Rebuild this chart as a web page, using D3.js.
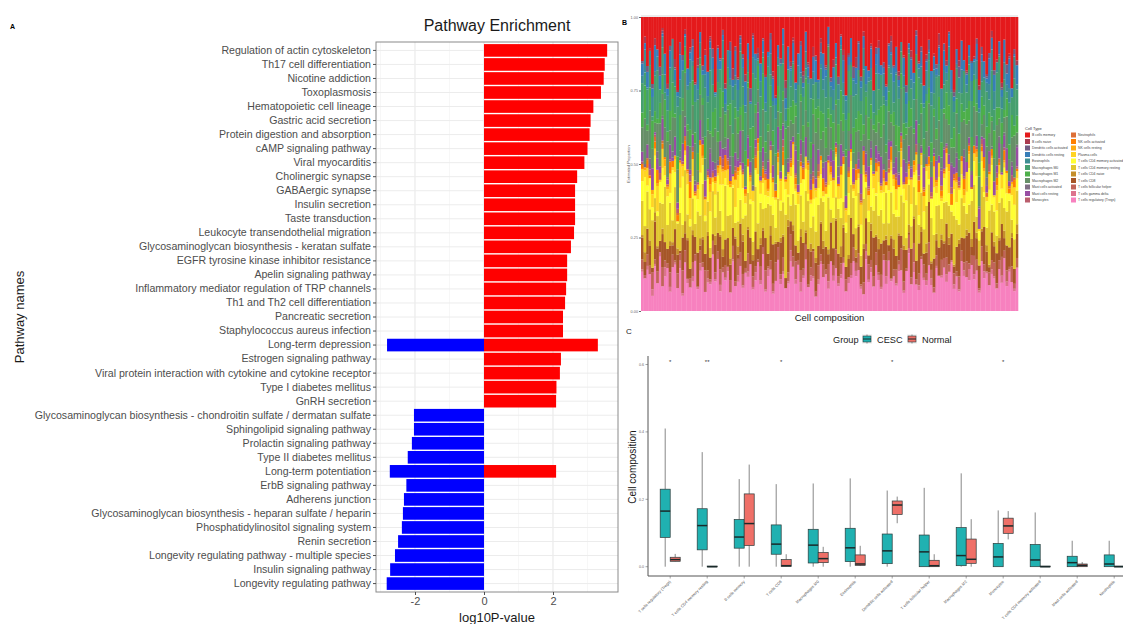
<!DOCTYPE html>
<html><head><meta charset="utf-8">
<script src="https://cdn.jsdelivr.net/npm/d3@7"></script>
<style>
body{margin:0;background:#fff}
svg{display:block}
text{font-family:"Liberation Sans",Arial,Helvetica,sans-serif}
</style>
</head><body>
<svg id="fig" width="1123" height="624"></svg>
<script>
// ---------- Panel A: pathway enrichment ----------
const pathways = [
  "Regulation of actin cytoskeleton","Th17 cell differentiation","Nicotine addiction","Toxoplasmosis",
  "Hematopoietic cell lineage","Gastric acid secretion","Protein digestion and absorption","cAMP signaling pathway",
  "Viral myocarditis","Cholinergic synapse","GABAergic synapse","Insulin secretion","Taste transduction",
  "Leukocyte transendothelial migration","Glycosaminoglycan biosynthesis - keratan sulfate",
  "EGFR tyrosine kinase inhibitor resistance","Apelin signaling pathway",
  "Inflammatory mediator regulation of TRP channels","Th1 and Th2 cell differentiation","Pancreatic secretion",
  "Staphylococcus aureus infection","Long-term depression","Estrogen signaling pathway",
  "Viral protein interaction with cytokine and cytokine receptor","Type I diabetes mellitus","GnRH secretion",
  "Glycosaminoglycan biosynthesis - chondroitin sulfate / dermatan sulfate","Sphingolipid signaling pathway",
  "Prolactin signaling pathway","Type II diabetes mellitus","Long-term potentiation","ErbB signaling pathway",
  "Adherens junction","Glycosaminoglycan biosynthesis - heparan sulfate / heparin",
  "Phosphatidylinositol signaling system","Renin secretion","Longevity regulating pathway - multiple species",
  "Insulin signaling pathway","Longevity regulating pathway"
];
const upLog10P = [3.57,3.50,3.47,3.39,3.17,3.09,3.06,3.00,2.91,2.70,2.64,2.64,2.64,2.61,2.52,2.41,2.41,2.38,2.35,2.29,2.29,
  3.30,2.23,2.20,2.10,2.09,null,null,null,null,2.09,null,null,null,null,null,null,null,null];
const downLog10P = [null,null,null,null,null,null,null,null,null,null,null,null,null,null,null,null,null,null,null,null,null,
  -2.81,null,null,null,null,-2.03,-2.03,-2.09,-2.21,-2.73,-2.25,-2.32,-2.35,-2.38,-2.49,-2.58,-2.72,-2.82];
const enrichTicks = [-2, 0, 2];

// ---------- Panel B: estimated cell proportions per sample ----------
const cellTypes = ["B cells memory","B cells naive","Dendritic cells activated","Dendritic cells resting","Eosinophils",
  "Macrophages M0","Macrophages M1","Macrophages M2","Mast cells activated","Mast cells resting","Monocytes",
  "Neutrophils","NK cells activated","NK cells resting","Plasma cells","T cells CD4 memory activated",
  "T cells CD4 memory resting","T cells CD4 naive","T cells CD8","T cells follicular helper","T cells gamma delta",
  "T cells regulatory (Tregs)"];
const bCellsMemory = `18 6 25 11 31 9 14 22 4 16 28 12 7 20 35 10 15 5 24 13 9 30 17 6 21 12 27 8 14 33
 11 19 5 26 15 8 23 13 29 7 16 24 10 32 6 18 12 21 9 27 14 7 22 34 11 17 5 25 13 20
 8 29 15 10 23 6 19 31 12 16 26 9 14 21 4 28 17 11 24 8 13 32 18 7 22 15 10 27 6 19
 24 11 30 14 9 20 16 35 12 7 21 13 26 8 17 29 10 15 23 5 19 12 31 16 9 25 14 22 7 28
 11 18 6 24 33 13 20 9 16 27 10 22 15 8 30 12 19 26 14 6 23 17 11 28 9 21 15 32 13 18`;
const bCellsNaive = `0 2 0 1 0 3 0 0 1 0 2 0 0 4 1 0 0 2 0 1 0 1 3 0 0 2 0 1 0 0
 1 0 0 2 0 0 5 0 1 0 0 3 0 0 1 0 2 0 0 1 0 0 2 1 0 0 0 3 0 2
 1 0 0 0 2 0 1 0 4 0 0 2 0 1 0 0 3 0 0 1 2 0 1 0 0 4 0 0 2 0
 0 1 0 0 3 0 0 1 0 2 0 0 2 0 1 0 0 3 0 0 1 0 0 2 0 0 1 0 5 0
 0 2 0 0 1 0 3 0 0 1 0 0 1 0 2 0 0 1 0 3 0 1 0 2 0 0 1 0 0 2`;
const dcActivated = `1 0 3 0 2 0 0 4 1 0 0 2 0 1 0 5 2 0 0 1 3 0 1 0 2 0 0 1 4 0
 0 1 2 0 0 3 0 2 0 1 2 0 0 6 1 0 2 0 1 0 0 3 1 0 0 2 0 4 0 1
 1 0 0 2 3 0 1 0 0 2 0 4 0 1 0 2 0 0 3 0 2 0 1 0 5 0 1 2 0 0
 0 1 0 3 0 0 2 0 1 4 1 0 2 0 0 3 0 1 0 2 0 2 0 1 4 0 0 2 1 0
 3 0 1 0 2 0 5 0 0 1 0 1 0 2 0 3 0 1 2 0 2 0 0 1 0 4 1 0 2 0`;
const dcResting = `5 2 8 0 4 11 3 6 1 9 3 7 0 5 2 10 4 1 8 3 6 0 9 4 2 7 12 3 5 1
 8 4 2 6 0 9 3 11 5 2 4 10 6 1 7 3 0 8 5 12 2 6 9 3 5 0 7 4 10 1
 7 3 5 11 2 8 4 0 6 9 1 5 10 3 7 2 9 6 0 4 9 2 4 8 1 6 11 3 5 7
 3 8 0 5 10 4 2 7 9 1 6 11 3 0 8 5 2 9 4 7 2 6 8 4 1 10 5 3 7 0
 8 3 5 9 2 6 0 11 4 5 4 9 1 6 8 3 7 2 10 5 7 0 6 3 9 5 12 4 1 8`;
const eosinophils = `3 7 1 5 9 2 6 0 4 8 6 1 9 3 5 7 0 4 2 10 2 8 4 6 0 5 3 9 7 1
 5 0 7 3 8 2 6 4 10 3 8 3 5 0 6 9 1 7 2 4 4 9 2 6 3 1 8 5 0 7
 1 6 8 2 4 7 3 10 5 0 7 2 4 9 1 5 8 3 6 2 5 8 3 1 7 4 0 6 9 3
 2 5 9 4 6 0 8 3 1 7 9 1 6 3 5 8 2 4 7 0 4 7 2 10 3 6 9 1 5 8
 6 3 8 1 5 2 7 9 0 4 3 10 5 7 2 8 1 4 6 9 8 4 1 5 7 3 6 0 9 2`;
const macrophagesM0 = `12 4 18 8 2 15 21 6 10 3 9 17 5 13 24 7 11 2 16 20 6 14 22 3 10 18 8 25 12 5
 19 9 13 1 17 6 15 10 3 21 8 16 4 11 20 13 2 18 7 14 23 5 10 15 8 19 12 3 17 9
 14 1 20 7 12 4 16 22 6 11 3 18 9 13 25 8 5 15 10 19 7 12 21 4 14 9 17 6 23 2
 16 10 5 19 8 13 3 20 11 15 4 22 13 7 16 2 18 9 12 6 20 8 14 3 11 17 6 24 9 13
 10 5 16 21 7 12 19 4 15 8 13 18 2 9 22 6 11 16 5 20 9 14 23 6 12 3 17 8 19 11`;
const macrophagesM1 = `6 10 3 8 13 5 2 9 7 12 4 8 11 2 6 14 5 9 3 7 10 5 7 12 3 8 6 1 11 9
 4 13 6 9 2 7 10 5 8 3 11 6 2 8 12 4 9 7 15 5 3 9 6 1 10 7 4 12 8 6
 9 5 11 3 7 13 2 8 6 10 5 12 7 9 4 6 11 2 8 14 7 3 9 6 11 5 8 12 4 7
 10 6 2 8 5 13 7 4 9 3 6 9 12 5 7 3 10 8 2 11 8 4 7 13 6 9 3 5 10 6
 2 11 8 4 9 6 12 7 3 8 7 5 10 3 6 11 4 9 8 2 12 7 5 9 3 8 6 10 4 7`;
const macrophagesM2 = `10 14 7 17 9 4 12 19 8 13 15 6 11 9 16 3 13 18 7 10 12 17 5 10 14 8 19 6 11 15
 7 11 16 4 13 10 8 15 12 6 14 9 18 7 10 13 5 11 16 8 11 15 8 12 6 17 10 7 14 9
 5 13 10 16 9 11 14 8 12 18 13 7 12 6 15 10 4 16 9 11 8 16 10 13 7 12 9 15 5 14
 12 9 17 6 11 8 14 10 13 7 16 5 10 14 9 12 7 18 11 8 9 13 6 11 17 7 12 10 15 4
 14 10 12 7 9 16 8 13 11 19 6 12 15 9 13 5 10 14 7 11 10 16 8 12 6 14 9 11 17 5`;
const mastActivated = `0 1 0 2 0 0 3 0 1 0 1 0 2 0 0 1 0 4 0 0 0 2 0 0 1 0 0 2 0 3
 2 0 0 1 0 3 0 0 1 0 0 0 1 0 2 0 4 0 0 1 1 0 0 3 0 0 1 0 2 0
 0 2 0 0 1 0 0 3 0 1 0 0 2 0 0 1 0 0 4 0 1 0 0 2 0 0 3 0 0 1
 0 3 0 0 1 0 2 0 1 0 2 0 1 0 0 4 0 1 0 0 0 1 0 3 0 0 2 0 0 1
 1 0 0 1 0 2 0 0 3 0 0 2 0 0 1 0 0 4 0 1 0 0 3 0 1 0 0 2 0 1`;
const mastResting = `4 0 7 2 10 1 5 3 8 0 2 6 1 9 3 0 7 4 11 2 5 3 0 8 2 6 1 10 4 3
 0 7 4 2 9 5 1 6 3 12 3 1 8 5 0 4 10 2 6 1 7 2 5 0 9 3 6 1 4 8
 2 10 3 6 1 8 0 5 11 4 6 0 4 9 2 5 7 1 3 10 1 5 8 3 6 0 4 9 2 7
 9 4 1 6 3 11 0 5 8 2 3 7 5 1 10 2 6 4 0 9 5 2 9 0 4 7 1 8 3 6
 8 1 4 10 3 6 2 0 7 5 2 6 0 4 9 1 8 3 5 0 6 3 7 1 5 10 2 4 0 8`;
const monocytes = `1 0 0 2 0 1 0 3 0 0 0 1 0 0 2 0 1 0 0 3 2 0 1 0 0 0 2 0 1 0
 0 0 3 0 1 0 0 2 0 1 1 0 0 1 0 4 0 0 2 0 0 2 0 0 1 0 3 0 0 1
 0 1 0 3 0 0 1 0 2 0 3 0 0 1 0 2 0 1 0 0 0 0 2 0 1 0 0 3 0 1
 1 0 0 2 0 1 0 0 4 0 0 2 0 0 1 0 1 0 0 3 2 0 1 0 0 2 0 1 0 0
 0 1 0 3 0 0 2 0 1 0 1 0 0 1 0 2 0 0 3 0 0 2 0 0 1 0 0 3 0 1`;
const neutrophils = `0 0 1 0 0 2 0 0 1 0 1 0 0 0 1 0 0 2 0 0 0 1 0 0 0 1 0 0 2 0
 0 0 1 0 2 0 0 1 0 0 1 0 0 0 0 1 0 0 1 2 0 0 1 0 0 0 2 0 0 1
 0 1 0 0 1 0 0 0 1 0 2 0 0 1 0 0 1 0 0 0 0 0 1 0 0 2 0 1 0 0
 1 0 0 0 1 0 0 0 2 0 0 1 0 2 0 0 0 1 0 0 0 0 1 0 0 1 0 0 0 2
 1 0 0 0 2 0 1 0 0 0 0 1 0 0 0 1 0 2 0 0 0 0 2 0 0 0 1 0 1 0`;
const nkActivated = `2 0 4 1 0 3 6 0 2 1 0 5 2 0 3 1 0 4 1 7 3 1 0 2 5 0 1 3 0 2
 1 4 0 6 2 1 0 3 2 0 0 2 3 1 0 5 2 0 4 1 4 0 1 3 2 0 6 1 0 2
 1 3 0 2 4 0 1 5 2 0 0 2 5 0 1 3 0 2 1 4 3 0 2 1 0 4 2 0 6 1
 2 1 0 4 1 0 3 2 0 5 0 4 1 2 0 3 1 0 2 1 5 0 2 1 3 0 4 1 0 2
 1 2 0 5 1 3 0 2 4 0 2 0 3 1 0 2 5 0 1 3 0 3 1 0 4 1 2 0 3 1`;
const nkResting = `0 1 0 0 2 0 1 0 0 3 1 0 0 2 0 0 1 0 1 0 0 0 2 0 1 0 0 3 0 1
 2 0 1 0 0 1 0 0 2 0 0 1 0 2 0 0 3 1 0 0 1 0 0 0 2 1 0 0 1 0
 0 2 1 0 0 0 2 0 0 1 1 0 0 3 0 1 0 1 0 0 0 1 0 0 2 0 0 1 0 2
 0 0 1 0 0 2 1 0 0 1 2 0 0 1 0 0 1 0 3 0 0 1 0 0 1 0 0 2 0 1
 0 0 3 0 0 1 0 0 2 0 1 0 0 2 0 0 1 0 0 1 0 2 0 0 1 0 0 1 0 0`;
const plasmaCells = `5 2 9 0 6 3 11 1 7 4 3 8 1 6 0 10 4 2 5 9 7 0 4 11 3 6 1 8 2 5
 1 9 5 3 7 0 4 12 6 2 6 3 0 8 4 1 9 5 2 7 2 10 6 1 5 8 0 3 9 4
 8 1 4 7 0 5 10 2 6 3 4 6 2 0 9 3 7 1 5 11 0 5 8 3 1 6 2 9 4 0
 7 2 5 10 6 1 4 0 8 3 3 9 0 5 2 7 4 11 1 6 10 4 7 2 5 0 8 3 6 1
 2 6 9 0 4 8 1 5 3 10 5 0 3 7 1 4 9 2 6 3 1 8 4 6 2 9 0 5 7 3`;
const cd4MemActive = `8 15 3 11 6 18 2 9 13 5 12 4 16 7 1 10 19 6 14 3 9 13 5 17 8 2 11 15 4 10
 6 12 18 3 14 9 1 7 16 11 13 5 10 2 15 8 19 4 11 6 3 14 7 12 9 4 16 10 1 13
 11 6 15 5 18 9 3 12 7 14 7 10 2 16 5 13 8 17 4 9 15 4 11 8 3 12 6 14 10 2
 5 17 9 1 13 7 11 4 15 8 12 3 14 9 6 16 2 10 5 13 4 11 8 15 2 9 18 6 12 7
 10 14 5 3 12 7 16 9 1 11 13 6 9 15 4 10 2 12 8 17 6 10 13 4 16 8 3 11 14 5`;
const cd4MemResting = `14 8 19 11 22 6 13 17 9 24 10 16 7 20 12 15 5 21 11 18 13 6 17 9 23 12 15 4 19 8
 16 11 7 21 10 14 18 6 12 9 7 19 13 15 5 22 10 16 8 14 20 9 12 6 17 11 14 25 10 7
 12 18 5 14 9 16 20 8 13 11 17 10 15 7 21 6 12 9 18 13 9 14 20 11 16 8 13 5 19 12
 15 7 11 18 9 14 6 22 10 16 11 17 8 13 19 5 15 10 12 21 8 14 11 16 7 20 9 13 18 6
 16 9 13 10 22 11 7 15 12 8 10 19 14 6 11 17 13 8 21 12 13 7 16 11 9 15 19 6 12 14`;
const cd4Naive = `1 3 0 2 0 4 1 0 2 0 0 2 1 0 3 0 0 5 1 0 2 0 0 3 1 0 2 0 0 4
 0 1 3 0 0 2 0 1 4 0 3 0 1 0 2 0 0 3 1 0 0 4 0 1 0 2 1 0 3 0
 2 0 0 3 0 1 0 4 0 2 0 1 3 0 2 0 0 1 0 5 1 0 2 0 0 3 1 0 2 0
 0 3 0 1 4 0 0 2 0 1 4 0 1 0 2 0 3 0 1 0 0 2 0 4 0 1 0 3 0 2
 1 0 3 0 1 0 2 0 0 3 0 4 0 2 0 1 0 3 1 0 2 0 1 0 3 0 0 2 0 4`;
const cd8 = `9 4 13 7 2 16 10 5 12 8 6 11 3 15 9 1 13 7 18 4 11 8 14 2 10 6 17 9 3 12
 7 15 4 10 13 5 8 19 2 11 14 3 9 12 6 17 4 10 7 15 5 11 16 8 2 13 9 4 20 6
 10 7 3 14 11 5 15 8 1 12 8 13 6 10 4 18 7 12 9 3 12 5 9 15 6 2 11 8 14 10
 4 12 16 7 9 13 5 11 3 15 9 6 12 4 14 8 1 13 10 7 13 10 5 9 16 3 11 7 12 8
 6 14 8 12 3 10 15 5 9 13 11 4 13 8 10 6 16 9 2 12 7 12 9 14 5 11 8 13 6 10`;
const follicularHelp = `4 1 6 3 8 2 5 0 7 3 2 6 4 1 7 3 9 5 0 4 6 3 0 5 2 8 4 1 6 3
 3 7 2 5 0 4 6 2 8 5 5 2 7 0 4 3 1 6 3 9 1 4 3 8 5 2 6 0 4 7
 4 8 2 5 3 6 1 4 10 2 6 3 5 2 7 0 4 8 3 5 2 5 0 4 6 3 7 1 5 3
 7 3 4 6 1 5 2 8 4 0 3 6 2 7 4 1 5 3 8 2 5 1 6 3 9 4 2 5 0 6
 4 7 3 0 5 2 6 4 3 8 2 5 7 4 1 6 3 0 5 4 6 2 4 8 3 5 1 7 2 4`;
const gammaDelta = `1 0 2 0 3 1 0 2 0 4 0 2 0 1 0 3 1 0 2 0 2 0 1 3 0 0 2 1 0 1
 0 3 0 1 2 0 1 0 3 0 1 0 2 0 1 4 0 2 0 1 3 0 1 0 0 2 1 0 1 5
 0 2 0 4 1 0 0 3 1 0 2 1 0 0 3 0 2 0 1 2 0 0 3 1 0 2 0 1 0 3
 1 2 0 0 2 1 0 4 0 1 0 1 3 0 1 0 2 0 4 0 2 0 1 2 0 3 0 1 0 1
 0 3 0 1 2 0 1 0 2 0 4 0 2 0 1 0 3 1 0 2 1 0 0 3 0 2 1 0 1 0`;
const tRegs = `16 10 21 13 7 19 12 24 9 15 18 8 14 22 11 17 6 20 13 10 12 23 9 16 19 7 14 11 25 13
 20 9 15 12 18 6 22 11 14 17 10 16 13 21 8 15 19 12 24 9 14 18 7 13 20 11 16 9 12 22
 17 12 19 8 14 21 10 15 13 6 11 20 13 16 9 23 12 18 10 15 19 8 14 11 22 13 17 10 7 20
 13 16 10 21 12 9 18 14 23 11 15 11 19 13 8 17 22 12 16 10 9 21 14 11 18 12 7 20 15 13
 18 12 16 22 10 14 9 19 13 17 11 23 12 15 8 20 14 17 10 16 14 9 19 12 21 11 16 13 8 18`;
const cellRows = [bCellsMemory,bCellsNaive,dcActivated,dcResting,eosinophils,macrophagesM0,macrophagesM1,macrophagesM2,
  mastActivated,mastResting,monocytes,neutrophils,nkActivated,nkResting,plasmaCells,cd4MemActive,cd4MemResting,
  cd4Naive,cd8,follicularHelp,gammaDelta,tRegs];
const proportionTicks = [0, 0.25, 0.5, 0.75, 1];

// ---------- Panel C: box plots of selected cell types by group ----------
const groups = ["CESC", "Normal"];
const boxCellTypes = ["T cells regulatory (Tregs)","T cells CD4 memory resting","B cells memory","T cells CD8",
  "Macrophages M0","Eosinophils","Dendritic cells activated","T cells follicular helper","Macrophages M2",
  "Monocytes","T cells CD4 memory activated","Mast cells activated","Neutrophils"];
// [lower whisker, Q1, median, Q3, upper whisker]
const cescStats = [
  [0,0.087,0.165,0.230,0.410],[0,0.050,0.122,0.172,0.340],[0,0.055,0.088,0.140,0.260],[0,0.037,0.067,0.124,0.245],
  [0,0.011,0.064,0.111,0.247],[0,0.015,0.056,0.114,0.262],[0,0.009,0.047,0.097,0.226],[0,0.000,0.044,0.094,0.234],
  [0,0.003,0.033,0.116,0.277],[0,0.000,0.029,0.069,0.167],[0,0.000,0.020,0.066,0.161],[0,0.000,0.012,0.031,0.077],
  [0,0.000,0.008,0.035,0.077]];
const normalStats = [
  [0.015,0.016,0.021,0.028,0.038],[0,0,0,0.002,0.002],[0,0.063,0.128,0.216,0.303],[0,0.001,0.003,0.021,0.037],
  [0,0.012,0.024,0.042,0.059],[0.002,0.004,0.008,0.035,0.062],[0.129,0.155,0.183,0.195,0.208],[0,0,0.003,0.019,0.037],
  [0,0.010,0.022,0.082,0.141],[0.081,0.099,0.121,0.144,0.165],[0,0,0,0.002,0.002],[0,0,0.004,0.008,0.014],
  [0,0,0,0.002,0.002]];
const significance = ["*","**","","*","","","*","","","*","","",""];
const compositionTicks = [0, 0.2, 0.4, 0.6];

const svg = d3.select("#fig");
svg.append("rect").attr("width",1123).attr("height",624).attr("fill","#fff");

// ================= Panel A =================
(function(){
  const L = 376, R = 618, T = 42, B = 592;
  const g = svg.append("g");
  const x = d3.scaleLinear().domain([-3.13, 3.884]).range([L, R]);
  const y = d3.scaleBand().domain(pathways).range([T, B]).paddingInner(0.1).paddingOuter(0.15);

  [-3,-1,1,3].forEach(v => g.append("line").attr("x1",x(v)).attr("x2",x(v)).attr("y1",T).attr("y2",B)
    .attr("stroke","#f2f2f2").attr("stroke-width",0.6));
  enrichTicks.forEach(v => g.append("line").attr("x1",x(v)).attr("x2",x(v)).attr("y1",T).attr("y2",B)
    .attr("stroke","#e6e6e6").attr("stroke-width",1));
  pathways.forEach(p => g.append("line").attr("x1",L).attr("x2",R)
    .attr("y1",y(p)+y.bandwidth()/2).attr("y2",y(p)+y.bandwidth()/2).attr("stroke","#ececec").attr("stroke-width",1));

  g.selectAll("rect.up").data(pathways.map((p,i)=>({p, v:upLog10P[i]})).filter(d=>d.v!=null))
    .join("rect").attr("x",x(0)).attr("y",d=>y(d.p)).attr("width",d=>x(d.v)-x(0)).attr("height",y.bandwidth())
    .attr("fill","#ff0000");
  g.selectAll("rect.down").data(pathways.map((p,i)=>({p, v:downLog10P[i]})).filter(d=>d.v!=null))
    .join("rect").attr("x",d=>x(d.v)).attr("y",d=>y(d.p)).attr("width",d=>x(0)-x(d.v)).attr("height",y.bandwidth())
    .attr("fill","#0000ff");

  g.append("rect").attr("x",L).attr("y",T).attr("width",R-L).attr("height",B-T)
    .attr("fill","none").attr("stroke","#8a8a8a").attr("stroke-width",1);

  const ax = g.append("g").attr("transform",`translate(0,${B})`)
    .call(d3.axisBottom(x).tickValues(enrichTicks).tickSize(3).tickPadding(2).tickFormat(d => String(d)));
  ax.select(".domain").remove();
  ax.selectAll("line").attr("stroke","#4d4d4d");
  ax.selectAll("text").attr("font-size",11).attr("fill","#4d4d4d").attr("font-family","Liberation Sans, Arial, sans-serif");
  const ay = g.append("g").attr("transform",`translate(${L},0)`)
    .call(d3.axisLeft(y).tickSize(3).tickPadding(2));
  ay.select(".domain").remove();
  ay.selectAll("line").attr("stroke","#4d4d4d");
  ay.selectAll("text").attr("font-size",10.6).attr("fill","#4d4d4d").attr("font-family","Liberation Sans, Arial, sans-serif");

  g.append("text").attr("x",(L+R)/2).attr("y",31).attr("text-anchor","middle").attr("font-size",16)
    .attr("fill","#1a1a1a").text("Pathway Enrichment");
  g.append("text").attr("x",(L+R)/2).attr("y",622).attr("text-anchor","middle").attr("font-size",13)
    .attr("fill","#1a1a1a").text("log10P-value");
  g.append("text").attr("transform",`translate(24,${(T+B)/2}) rotate(-90)`).attr("text-anchor","middle")
    .attr("font-size",13).attr("fill","#1a1a1a").text("Pathway names");
  g.append("text").attr("x",10).attr("y",29).attr("font-size",7).attr("font-weight","bold").text("A");
})();

// ================= Panel B =================
(function(){
  const L = 641, R = 1018, T = 17, B = 311;
  const g = svg.append("g");
  const parsed = cellRows.map(s => s.trim().split(/\s+/).map(Number));
  const n = d3.min(parsed, r => r.length);
  const samples = d3.range(n).map(j => parsed.map(r => r[j]));
  const keys = d3.range(cellTypes.length).reverse();  // first cell type stacked on top
  const stacked = d3.stack().keys(keys).value((d,k)=>d[k]).offset(d3.stackOffsetExpand)(samples);
  const x = d3.scaleBand().domain(d3.range(n)).range([L, R]).padding(0);
  const y = d3.scaleLinear().domain([0,1]).range([B, T]);
  const set1 = ["#E41A1C","#377EB8","#4DAF4A","#984EA3","#FF7F00","#FFFF33","#A65628","#F781BF"];
  const palette = d3.quantize(d3.piecewise(d3.interpolateRgb, set1), cellTypes.length);

  g.append("line").attr("x1",L).attr("x2",R).attr("y1",T-1).attr("y2",T-1).attr("stroke","#d9d9d9").attr("stroke-width",1);
  stacked.forEach(layer => {
    g.append("g").attr("fill", palette[layer.key]).selectAll("rect").data(layer).join("rect")
      .attr("x",(d,i)=>x(i)).attr("width",x.bandwidth()+0.3)
      .attr("y",d=>y(d[1])).attr("height",d=>Math.max(0,y(d[0])-y(d[1])));
  });

  const ay = g.append("g").attr("transform",`translate(${L},0)`)
    .call(d3.axisLeft(y).tickValues(proportionTicks).tickSize(2).tickPadding(1).tickFormat(d3.format(".2f")));
  ay.select(".domain").remove();
  ay.selectAll("line").attr("stroke","#666");
  ay.selectAll("text").attr("font-size",3.8).attr("fill","#666").attr("font-family","Liberation Sans, Arial, sans-serif");
  g.append("text").attr("transform",`translate(630,${(T+B)/2}) rotate(-90)`).attr("text-anchor","middle")
    .attr("font-size",4).attr("fill","#555").text("Estimated Proportion");
  g.append("text").attr("x",(L+R)/2).attr("y",321).attr("text-anchor","middle").attr("font-size",9.5)
    .attr("fill","#1a1a1a").text("Cell composition");
  g.append("text").attr("x",622).attr("y",25).attr("font-size",7).attr("font-weight","bold").text("B");

  const lg = g.append("g");
  lg.append("text").attr("x",1025).attr("y",130).attr("font-size",4).attr("fill","#333").text("Cell Type");
  cellTypes.forEach((c,i) => {
    const col = i < 11 ? 0 : 1, row = i % 11;
    const lx = col ? 1071 : 1025, ly = 132.5 + row*6.5;
    lg.append("rect").attr("x",lx).attr("y",ly).attr("width",5).attr("height",5).attr("fill",palette[i]);
    lg.append("text").attr("x",lx+7).attr("y",ly+3.8).attr("font-size",3.4).attr("fill","#444").text(c);
  });
})();

// ================= Panel C =================
(function(){
  const L = 648, T = 356, B = 576;
  const g = svg.append("g");
  const step = 37.0;
  const x = d3.scaleBand().domain(boxCellTypes).range([L, L + step*boxCellTypes.length + 0.2*step])
    .paddingInner(0).paddingOuter(0.1);
  const y = d3.scaleLinear().domain([0, 0.6]).range([566.7, 364.5]);
  const fills = {CESC:"#20B1B1", Normal:"#EF7068"};
  const bw = 10;

  boxCellTypes.forEach((c,i) => {
    const cx = x(c) + x.bandwidth()/2;
    [[cescStats[i],"CESC",-5],[normalStats[i],"Normal",5]].forEach(([s,grp,off]) => {
      const bx = cx + off;
      g.append("line").attr("x1",bx).attr("x2",bx).attr("y1",y(s[4])).attr("y2",y(s[3]))
        .attr("stroke","#555").attr("stroke-width",0.7);
      g.append("line").attr("x1",bx).attr("x2",bx).attr("y1",y(s[1])).attr("y2",y(s[0]))
        .attr("stroke","#555").attr("stroke-width",0.7);
      g.append("rect").attr("x",bx-bw/2).attr("y",y(s[3])).attr("width",bw)
        .attr("height",Math.max(0.8,y(s[1])-y(s[3]))).attr("fill",fills[grp])
        .attr("stroke","#2b3a3a").attr("stroke-width",0.7);
      g.append("line").attr("x1",bx-bw/2).attr("x2",bx+bw/2).attr("y1",y(s[2])).attr("y2",y(s[2]))
        .attr("stroke","#1a2a2a").attr("stroke-width",1.5);
    });
    if (significance[i]) g.append("text").attr("x",cx).attr("y",364).attr("text-anchor","middle")
      .attr("font-size",6).attr("fill","#333").text(significance[i]);
  });

  g.append("line").attr("x1",L).attr("x2",L).attr("y1",T).attr("y2",B).attr("stroke","#555").attr("stroke-width",1);
  g.append("line").attr("x1",L).attr("x2",1123).attr("y1",B).attr("y2",B).attr("stroke","#555").attr("stroke-width",1);

  compositionTicks.forEach(v => {
    g.append("line").attr("x1",L-2.5).attr("x2",L).attr("y1",y(v)).attr("y2",y(v)).attr("stroke","#666").attr("stroke-width",0.6);
    g.append("text").attr("x",L-4).attr("y",y(v)+1.3).attr("text-anchor","end").attr("font-size",3.6)
      .attr("fill","#666").text(d3.format(".1f")(v));
  });
  boxCellTypes.forEach(c => {
    const cx = x(c) + x.bandwidth()/2;
    g.append("line").attr("x1",cx).attr("x2",cx).attr("y1",B).attr("y2",B+2.5).attr("stroke","#666").attr("stroke-width",0.6);
    g.append("text").attr("transform",`translate(${cx+1},${B+6}) rotate(-45)`).attr("text-anchor","end")
      .attr("font-size",4).attr("fill","#555").text(c);
  });

  g.append("text").attr("transform",`translate(636,467) rotate(-90)`).attr("text-anchor","middle")
    .attr("font-size",10).attr("fill","#1a1a1a").text("Cell composition");
  g.append("text").attr("x",626).attr("y",334).attr("font-size",8).attr("fill","#222").text("C");

  const lg = g.append("g").attr("font-size",9.2).attr("fill","#222");
  lg.append("text").attr("x",833).attr("y",342.5).text("Group");
  let lx = 862;
  groups.forEach(grp => {
    lg.append("rect").attr("x",lx).attr("y",334).attr("width",10).attr("height",10).attr("fill","#f4f4f4");
    lg.append("line").attr("x1",lx+5).attr("x2",lx+5).attr("y1",334.5).attr("y2",343.5).attr("stroke","#555").attr("stroke-width",0.6);
    lg.append("rect").attr("x",lx+1).attr("y",336).attr("width",8).attr("height",6).attr("fill",fills[grp])
      .attr("stroke","#2b3a3a").attr("stroke-width",0.6);
    lg.append("line").attr("x1",lx+1).attr("x2",lx+9).attr("y1",339).attr("y2",339).attr("stroke","#1a2a2a").attr("stroke-width",1);
    lg.append("text").attr("x",lx+15).attr("y",342.5).text(grp);
    lx += 45;
  });
})();
</script>
</body></html>
